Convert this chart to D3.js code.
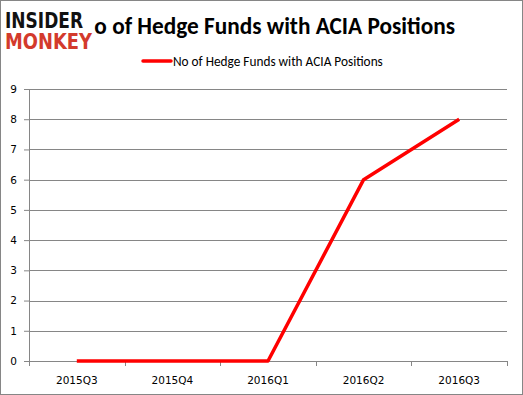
<!DOCTYPE html>
<html>
<head>
<meta charset="utf-8">
<script src="https://cdn.jsdelivr.net/npm/d3@7"></script>
<style>
  body { margin: 0; background: #fff; }
  svg { display: block; font-family: Calibri, Carlito, "Liberation Sans", sans-serif; }
</style>
</head>
<body>
<svg id="chart" width="523" height="395"></svg>
<script>
var quarters = ["2015Q3", "2015Q4", "2016Q1", "2016Q2", "2016Q3"];
var fundCounts = [0, 0, 0, 6, 8];
var yTicks = [0, 1, 2, 3, 4, 5, 6, 7, 8, 9];
var seriesName = "No of Hedge Funds with ACIA Positions";
var chartTitle = "No of Hedge Funds with ACIA Positions";

var svg = d3.select("svg#chart"),
    margin = {top: 89, right: 16, bottom: 34, left: 29},
    width = +svg.attr("width") - margin.left - margin.right,
    height = +svg.attr("height") - margin.top - margin.bottom;

// outer frame
svg.append("rect")
    .attr("x", 0.5).attr("y", 0.5)
    .attr("width", 522).attr("height", 394)
    .attr("fill", "#fff")
    .attr("stroke", "#868686");

var g = svg.append("g").attr("transform", "translate(" + margin.left + "," + margin.top + ")");

var x = d3.scaleBand()
    .domain(quarters)
    .range([0, width]);

var y = d3.scaleLinear()
    .domain([0, 9])
    .range([height, 0]);

// left axis
var yAxis = g.append("g")
    .call(d3.axisLeft(y).tickValues(yTicks).tickSize(5).tickSizeOuter(0));
yAxis.select(".domain").attr("stroke", "#868686");
yAxis.selectAll(".tick line").attr("stroke", "#868686");
yAxis.selectAll(".tick text")
    .attr("x", -12)
    .attr("fill", "#000")
    .attr("font-family", "Verdana, 'DejaVu Sans', sans-serif")
    .style("font-size", "10.5px");

// gridlines
g.append("g")
  .selectAll("line")
  .data(yTicks.filter(function(d) { return d > 0; }))
  .enter().append("line")
    .attr("x1", 0)
    .attr("x2", width)
    .attr("y1", function(d) { return Math.round(y(d)) + 0.5; })
    .attr("y2", function(d) { return Math.round(y(d)) + 0.5; })
    .attr("stroke", "#868686");

// bottom axis, ticks sit on category boundaries
var xAxis = g.append("g")
    .attr("transform", "translate(0," + height + ")");
xAxis.append("line")
    .attr("x1", 0).attr("x2", width)
    .attr("y1", 0.5).attr("y2", 0.5)
    .attr("stroke", "#868686");
xAxis.selectAll(".bnd")
  .data(d3.range(quarters.length + 1))
  .enter().append("line")
    .attr("class", "bnd")
    .attr("x1", function(i) { return Math.round(i * x.step()) + 0.5; })
    .attr("x2", function(i) { return Math.round(i * x.step()) + 0.5; })
    .attr("y1", 0).attr("y2", 5)
    .attr("stroke", "#868686");
xAxis.selectAll("text")
  .data(quarters)
  .enter().append("text")
    .attr("x", function(d) { return x(d) + x.bandwidth() / 2; })
    .attr("y", 23)
    .attr("text-anchor", "middle")
    .attr("font-family", "Verdana, 'DejaVu Sans', sans-serif")
    .attr("font-size", 10.5)
    .attr("fill", "#000")
    .text(function(d) { return d; });

// the series line
var line = d3.line()
    .x(function(d, i) { return x(quarters[i]) + x.bandwidth() / 2; })
    .y(function(d) { return y(d); });

g.append("path")
    .datum(fundCounts)
    .attr("fill", "none")
    .attr("stroke", "#ff0000")
    .attr("stroke-width", 3.5)
    .attr("stroke-linejoin", "round")
    .attr("d", line);

// title (its start is hidden behind the logo, as in the original)
svg.append("text")
    .attr("x", 267)
    .attr("y", 34)
    .attr("text-anchor", "middle")
    .attr("font-weight", "bold")
    .attr("font-size", 23.3)
    .attr("fill", "#000")
    .text(chartTitle);

// legend
var legend = svg.append("g").attr("transform", "translate(143,61)");
legend.append("line")
    .attr("x1", 0).attr("x2", 28)
    .attr("stroke", "#ff0000")
    .attr("stroke-width", 3.5)
    .attr("stroke-linecap", "round");
legend.append("text")
    .attr("x", 30)
    .attr("y", 0)
    .attr("dy", "0.35em")
    .attr("font-size", 13.3)
    .attr("fill", "#000")
    .text(seriesName);

// logo
var logo = svg.append("g");
logo.append("rect")
    .attr("x", 3).attr("y", 6)
    .attr("width", 91).attr("height", 46)
    .attr("fill", "#fff");
logo.append("text")
    .attr("x", 5).attr("y", 28)
    .attr("font-family", "'DejaVu Sans Condensed', 'DejaVu Sans', sans-serif")
    .attr("font-weight", "bold")
    .attr("font-size", 21)
    .attr("textLength", 78)
    .attr("lengthAdjust", "spacingAndGlyphs")
    .attr("fill", "#111")
    .text("INSIDER");
logo.append("text")
    .attr("x", 5).attr("y", 49)
    .attr("font-family", "'DejaVu Sans Condensed', 'DejaVu Sans', sans-serif")
    .attr("font-weight", "bold")
    .attr("font-size", 21)
    .attr("textLength", 87)
    .attr("lengthAdjust", "spacingAndGlyphs")
    .attr("fill", "#d33a2c")
    .text("MONKEY");
</script>
</body>
</html>
